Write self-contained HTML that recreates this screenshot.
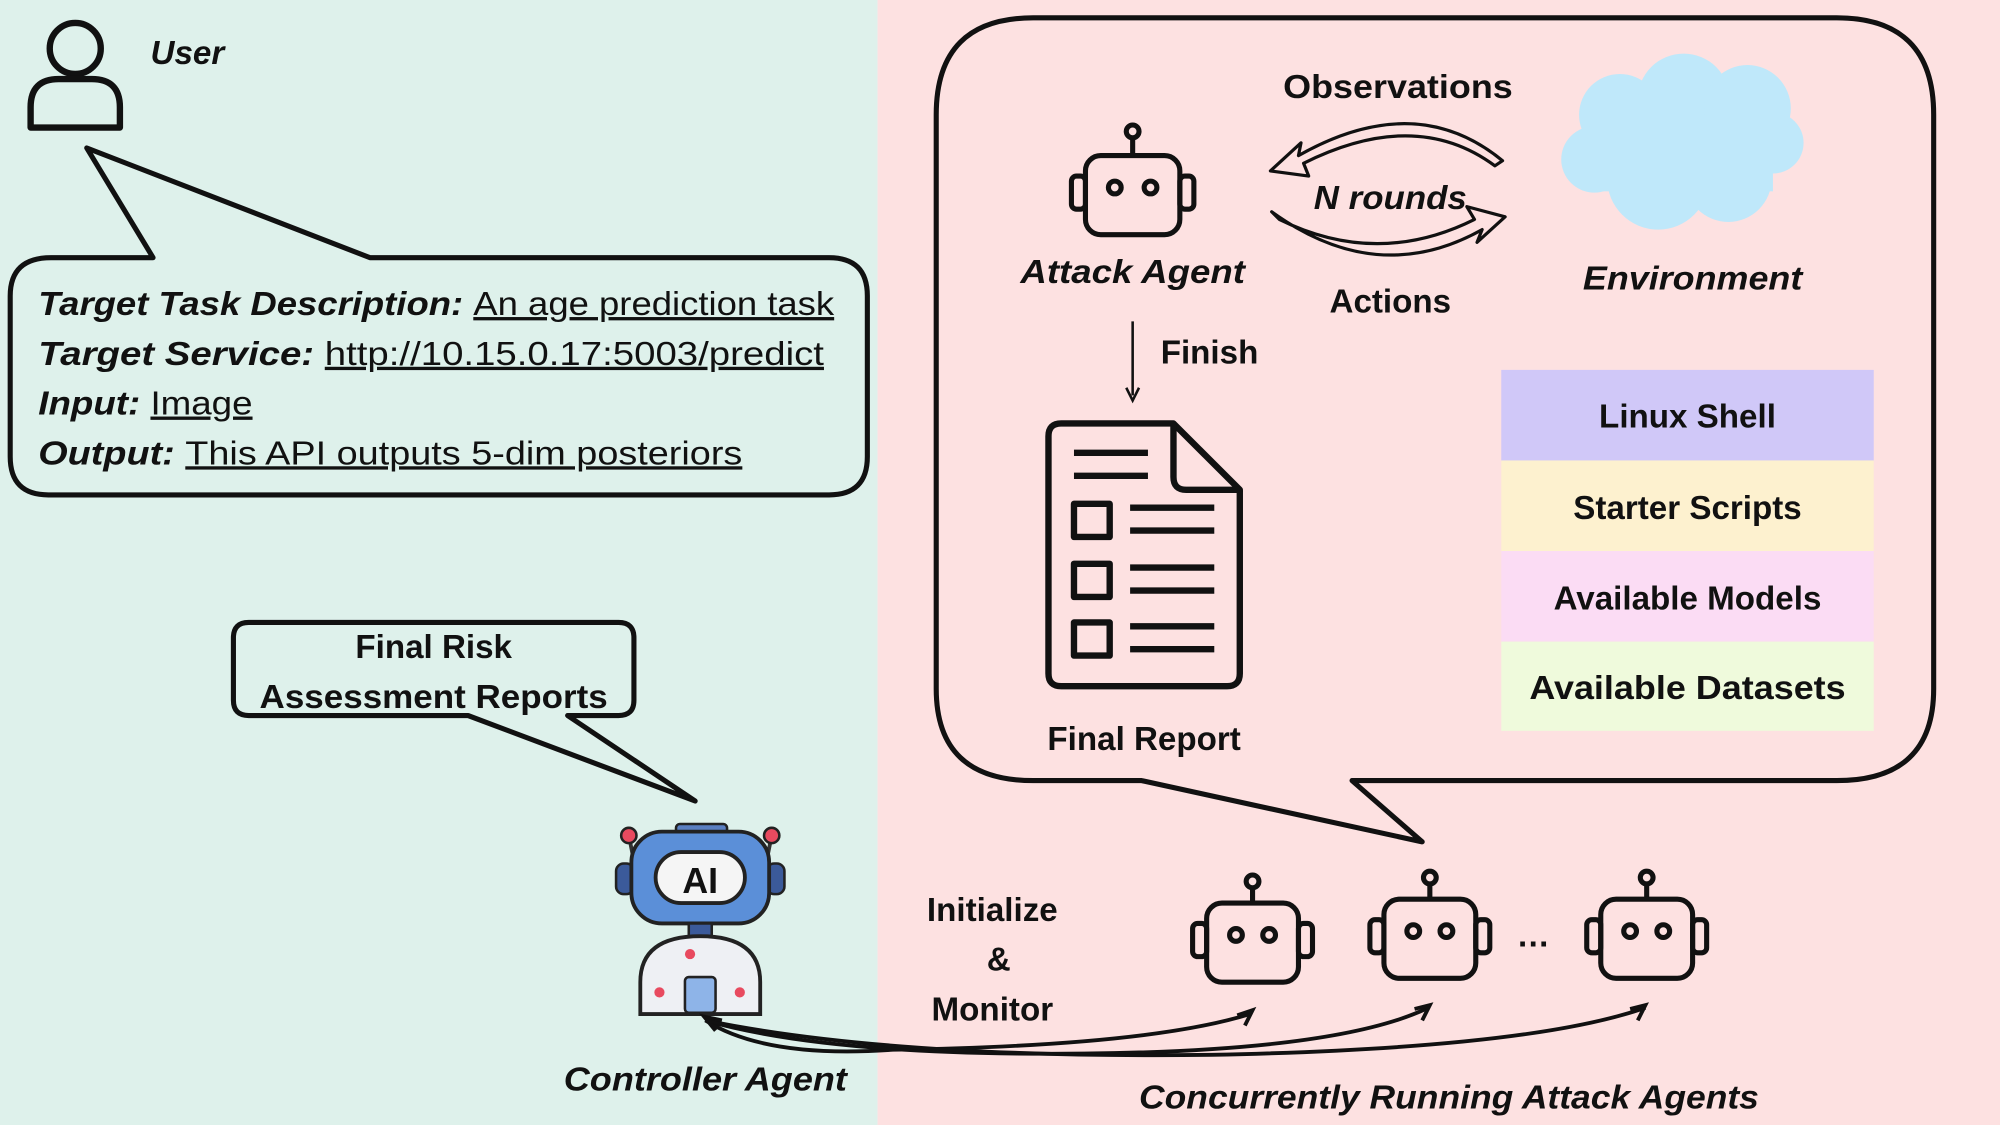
<!DOCTYPE html>
<html><head><meta charset="utf-8"><style>
html,body{margin:0;padding:0;width:2000px;height:1125px;overflow:hidden;background:#fff}
svg{display:block}
text{font-family:"Liberation Sans",sans-serif;font-weight:bold;fill:#111}
</style></head><body>
<svg width="2000" height="1125" viewBox="0 0 1568 882" xmlns="http://www.w3.org/2000/svg">
<rect x="0" y="0" width="688" height="882" fill="#def1eb"/>
<rect x="688" y="0" width="880" height="882" fill="#fde1e1"/>

<circle cx="59" cy="38" r="20" fill="none" stroke="#111" stroke-width="5"/>
<path d="M24 100 V84 Q24 62 46 62 H72 Q94 62 94 84 V100 Z" fill="none" stroke="#111" stroke-width="5" stroke-linejoin="round"/>
<text x="118" y="50" font-size="26" font-style="italic">User</text>

<path d="M40 202 H120 L68 116 L290 202 H650 Q680 202 680 232 V358 Q680 388 650 388 H38 Q8 388 8 358 V232 Q8 202 40 202 Z" fill="#def1eb" stroke="#111" stroke-width="4" stroke-linejoin="round"/>
<g font-size="26">
<text x="30" y="247" textLength="624" lengthAdjust="spacingAndGlyphs"><tspan font-style="italic">Target Task Description:</tspan> <tspan font-weight="normal" text-decoration="underline">An age prediction task</tspan></text>
<text x="30" y="286" textLength="616" lengthAdjust="spacingAndGlyphs"><tspan font-style="italic">Target Service:</tspan> <tspan font-weight="normal" text-decoration="underline">http://10.15.0.17:5003/predict</tspan></text>
<text x="30" y="325" textLength="168" lengthAdjust="spacingAndGlyphs"><tspan font-style="italic">Input:</tspan> <tspan font-weight="normal" text-decoration="underline">Image</tspan></text>
<text x="30" y="364" textLength="552" lengthAdjust="spacingAndGlyphs"><tspan font-style="italic">Output:</tspan> <tspan font-weight="normal" text-decoration="underline">This API outputs 5-dim posteriors</tspan></text>
</g>

<path d="M195 488 H485 Q497 488 497 500 V549 Q497 561 485 561 H445 L545 628 L367 561 H195 Q183 561 183 549 V500 Q183 488 195 488 Z" fill="#def1eb" stroke="#111" stroke-width="4" stroke-linejoin="round"/>
<text x="340" y="516" font-size="26" text-anchor="middle">Final Risk</text>
<text x="340" y="555" font-size="26" text-anchor="middle" textLength="273" lengthAdjust="spacingAndGlyphs">Assessment Reports</text>

<g>
<line x1="494" y1="660" x2="500" y2="690" stroke="#333" stroke-width="3"/>
<line x1="604" y1="660" x2="598" y2="690" stroke="#333" stroke-width="3"/>
<circle cx="493" cy="655" r="6" fill="#e84a5f" stroke="#222" stroke-width="2"/>
<circle cx="605" cy="655" r="6" fill="#e84a5f" stroke="#222" stroke-width="2"/>
<rect x="483" y="677" width="14" height="24" rx="6" fill="#3b5a9a" stroke="#222" stroke-width="2"/>
<rect x="601" y="677" width="14" height="24" rx="6" fill="#3b5a9a" stroke="#222" stroke-width="2"/>
<rect x="530" y="646" width="40" height="10" rx="3" fill="#5a7fc2" stroke="#222" stroke-width="2"/>
<rect x="495" y="652" width="108" height="72" rx="24" fill="#5b8fd8" stroke="#222" stroke-width="3"/>
<rect x="514" y="668" width="70" height="40" rx="20" fill="#f5f5f5" stroke="#222" stroke-width="3"/>
<text x="549" y="700" font-size="28" text-anchor="middle">AI</text>
<rect x="540" y="724" width="18" height="10" fill="#3b5a9a" stroke="#222" stroke-width="2"/>
<path d="M502 795 V770 Q502 734 549 734 Q596 734 596 770 V795 Z" fill="#eef0f4" stroke="#222" stroke-width="3"/>
<rect x="537" y="766" width="24" height="28" rx="3" fill="#8eb4e8" stroke="#222" stroke-width="2"/>
<circle cx="541" cy="748" r="4" fill="#e84a5f"/><circle cx="517" cy="778" r="4" fill="#e84a5f"/><circle cx="580" cy="778" r="4" fill="#e84a5f"/>
</g>
<text x="553" y="855" font-size="26" font-style="italic" text-anchor="middle" textLength="222" lengthAdjust="spacingAndGlyphs">Controller Agent</text>

<path d="M810 14 H1440 Q1516 14 1516 90 V540 Q1516 612 1440 612 H1060 L1115 660 L895 612 H810 Q734 612 734 540 V90 Q734 14 810 14 Z" fill="#fde1e1" stroke="#111" stroke-width="4" stroke-linejoin="round"/>

<g fill="none" stroke="#111" stroke-width="4" stroke-linejoin="round">
<line x1="888" y1="108" x2="888" y2="122"/>
<circle cx="888" cy="103" r="5"/>
<rect x="851" y="122" width="74" height="62" rx="12"/>
<rect x="840" y="138" width="11" height="26" rx="4"/>
<rect x="925" y="138" width="11" height="26" rx="4"/>
<circle cx="874" cy="147" r="5"/><circle cx="902" cy="147" r="5"/>
</g>
<text x="888" y="222" font-size="26" font-style="italic" text-anchor="middle" textLength="176" lengthAdjust="spacingAndGlyphs">Attack Agent</text>

<text x="1096" y="77" font-size="26" text-anchor="middle" textLength="180" lengthAdjust="spacingAndGlyphs">Observations</text>
<g fill="#fde1e1" stroke="#111" stroke-width="2.5" stroke-linejoin="round">
<path d="M1178 126 Q1110 70 1018 122 L1020 112 L996 134 L1026 138 L1022 128 Q1110 84 1172 130 Z"/>
<path d="M997 166 Q1080 226 1162 180 L1158 190 L1180 170 L1150 162 L1156 172 Q1080 210 1003 172 Z"/>
</g>
<text x="1090" y="164" font-size="26" font-style="italic" text-anchor="middle" textLength="120" lengthAdjust="spacingAndGlyphs">N rounds</text>
<text x="1090" y="245" font-size="26" text-anchor="middle">Actions</text>

<g fill="#bfe8fa">
<circle cx="1270" cy="90" r="32"/><circle cx="1320" cy="78" r="36"/><circle cx="1370" cy="85" r="34"/>
<circle cx="1390" cy="112" r="24"/><circle cx="1250" cy="125" r="26"/><circle cx="1300" cy="140" r="40"/>
<circle cx="1355" cy="140" r="34"/><rect x="1250" y="90" width="140" height="60"/>
</g>
<text x="1327" y="227" font-size="26" font-style="italic" text-anchor="middle" textLength="172" lengthAdjust="spacingAndGlyphs">Environment</text>

<line x1="888" y1="252" x2="888" y2="310" stroke="#111" stroke-width="2"/>
<path d="M883 304 L888 314 L893 304" fill="none" stroke="#111" stroke-width="2"/>
<text x="910" y="285" font-size="26">Finish</text>

<g fill="none" stroke="#111" stroke-width="5" stroke-linejoin="round">
<path d="M832 332 H920 L972 384 V528 Q972 538 962 538 H832 Q822 538 822 528 V342 Q822 332 832 332 Z"/>
<path d="M920 332 V374 Q920 384 930 384 H972"/>
<line x1="842" y1="355" x2="900" y2="355"/><line x1="842" y1="373" x2="900" y2="373"/>
<rect x="842" y="395" width="28" height="26"/><line x1="886" y1="398" x2="952" y2="398"/><line x1="886" y1="416" x2="952" y2="416"/>
<rect x="842" y="442" width="28" height="26"/><line x1="886" y1="445" x2="952" y2="445"/><line x1="886" y1="463" x2="952" y2="463"/>
<rect x="842" y="488" width="28" height="26"/><line x1="886" y1="491" x2="952" y2="491"/><line x1="886" y1="509" x2="952" y2="509"/>
</g>
<text x="897" y="588" font-size="26" text-anchor="middle">Final Report</text>

<rect x="1177" y="290" width="292" height="71" fill="#d0c8f8"/>
<rect x="1177" y="361" width="292" height="71" fill="#fdf1cf"/>
<rect x="1177" y="432" width="292" height="71" fill="#fbdcf4"/>
<rect x="1177" y="503" width="292" height="70" fill="#effadc"/>
<g font-size="26" text-anchor="middle">
<text x="1323" y="335">Linux Shell</text>
<text x="1323" y="407">Starter Scripts</text>
<text x="1323" y="478">Available Models</text>
<text x="1323" y="548" textLength="248" lengthAdjust="spacingAndGlyphs">Available Datasets</text>
</g>

<g fill="none" stroke="#111" stroke-width="4" stroke-linejoin="round">
<g transform="translate(982,0)">
<circle cx="0" cy="691" r="5"/><line x1="0" y1="696" x2="0" y2="708"/>
<rect x="-36" y="708" width="72" height="62" rx="12"/>
<rect x="-47" y="724" width="11" height="26" rx="4"/><rect x="36" y="724" width="11" height="26" rx="4"/>
<circle cx="-13" cy="733" r="5"/><circle cx="13" cy="733" r="5"/>
</g>
<g transform="translate(1121,-3)">
<circle cx="0" cy="691" r="5"/><line x1="0" y1="696" x2="0" y2="708"/>
<rect x="-36" y="708" width="72" height="62" rx="12"/>
<rect x="-47" y="724" width="11" height="26" rx="4"/><rect x="36" y="724" width="11" height="26" rx="4"/>
<circle cx="-13" cy="733" r="5"/><circle cx="13" cy="733" r="5"/>
</g>
<g transform="translate(1291,-3)">
<circle cx="0" cy="691" r="5"/><line x1="0" y1="696" x2="0" y2="708"/>
<rect x="-36" y="708" width="72" height="62" rx="12"/>
<rect x="-47" y="724" width="11" height="26" rx="4"/><rect x="36" y="724" width="11" height="26" rx="4"/>
<circle cx="-13" cy="733" r="5"/><circle cx="13" cy="733" r="5"/>
</g>
</g>
<text x="1202" y="742" font-size="26" text-anchor="middle">…</text>

<text x="778" y="722" font-size="26" text-anchor="middle">Initialize</text>
<text x="783" y="761" font-size="26" text-anchor="middle">&amp;</text>
<text x="778" y="800" font-size="26" text-anchor="middle">Monitor</text>

<g fill="none" stroke="#111" stroke-width="3">
<path d="M553 800 Q600 830 700 823 Q900 820 980 795"/>
<path d="M553 800 Q650 828 850 826 Q1050 824 1120 790"/>
<path d="M553 800 Q700 830 950 827 Q1200 822 1290 790"/>
<path d="M970 796 L982 792 L976 804 M1109 791 L1121 788 L1115 800 M1278 791 L1290 788 L1284 800"/>
<path d="M566 800 L552 797 L561 808"/>
</g>
<text x="1136" y="869" font-size="26" font-style="italic" text-anchor="middle" textLength="486" lengthAdjust="spacingAndGlyphs">Concurrently Running Attack Agents</text>
</svg>
</body></html>
